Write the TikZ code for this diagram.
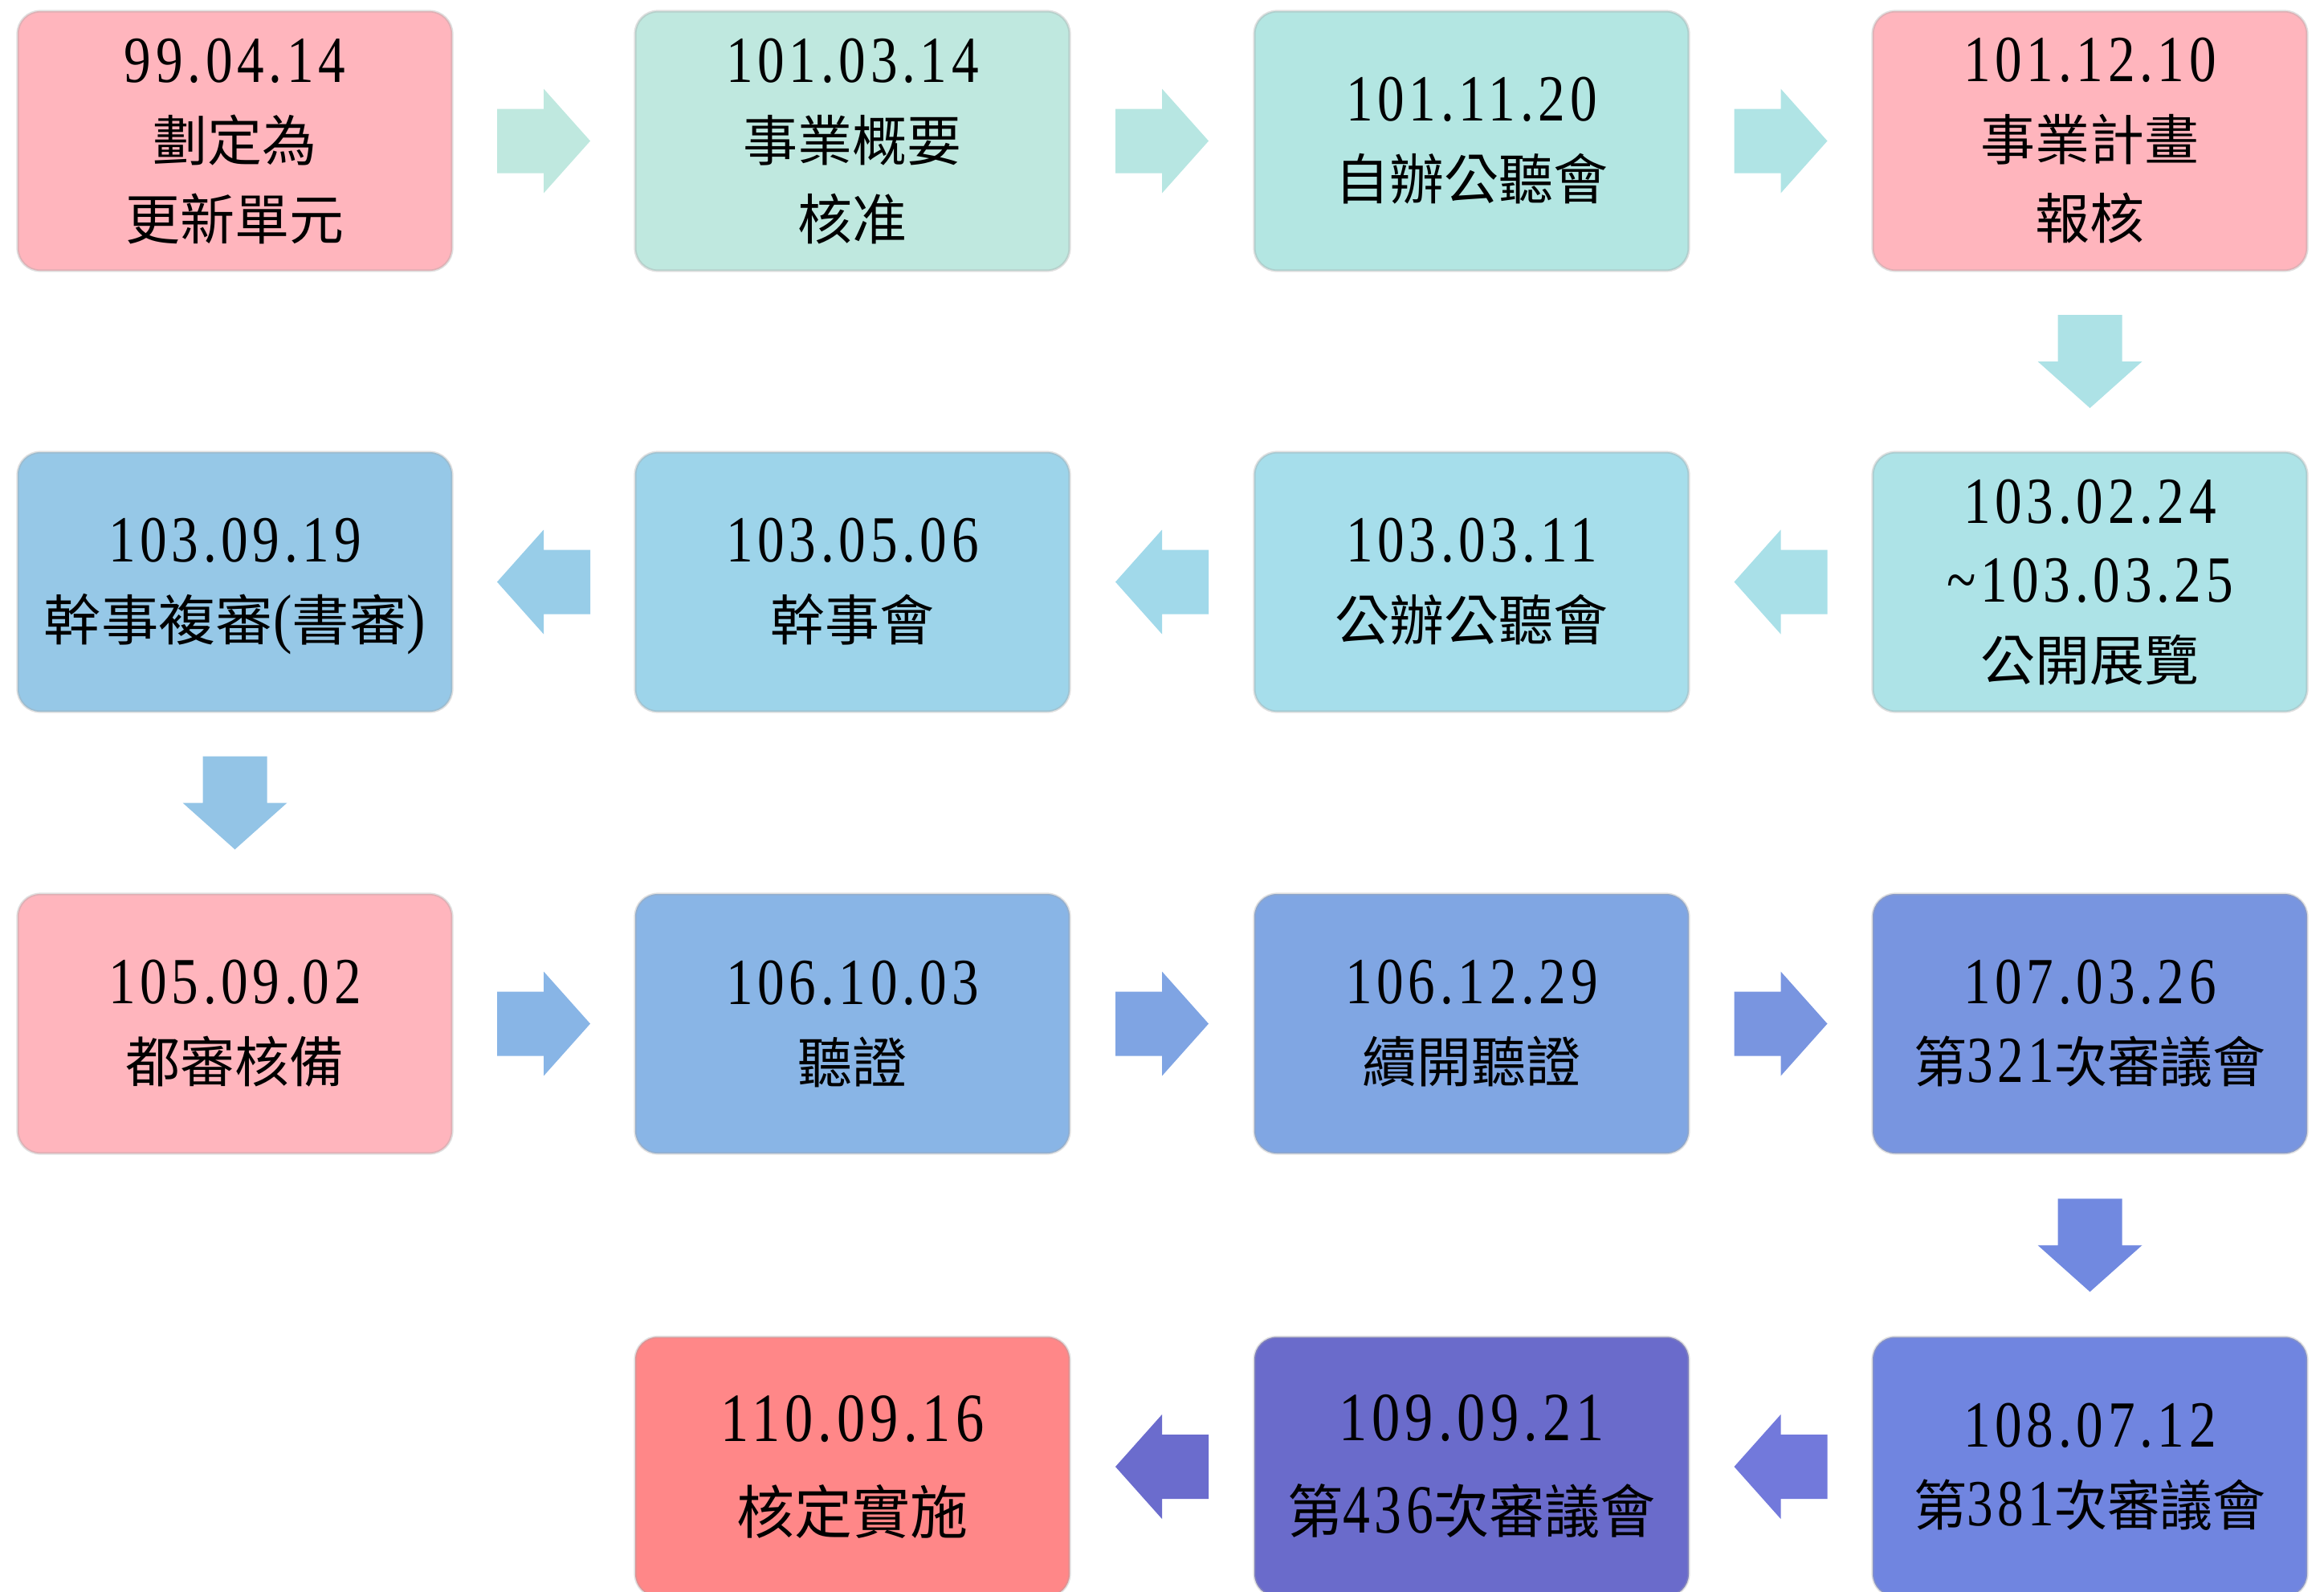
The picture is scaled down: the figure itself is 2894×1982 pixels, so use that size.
\documentclass[tikz,border=0pt]{standalone}
\usepackage{fontspec}
\usepackage{graphicx}
\setmainfont{Liberation Serif}
\newfontfamily\datef[FakeStretch=0.82,LetterSpace=7]{Liberation Serif}
\newfontfamily\cjkf{Noto Sans CJK TC}
\usetikzlibrary{calc}
\newcommand\dt[1]{{\datef\fontsize{20.5pt}{24.5pt}\selectfont #1}}
\newcommand\dtb[1]{{\datef\fontsize{21.5pt}{28.75pt}\selectfont #1}}
\definecolor{pk}{HTML}{FFB5BD}
\definecolor{b12}{HTML}{BFE8DF}
\definecolor{b13}{HTML}{B3E6E2}
\definecolor{b24}{HTML}{ADE3E7}
\definecolor{b23}{HTML}{A6DEEB}
\definecolor{b22}{HTML}{9DD4EA}
\definecolor{b21}{HTML}{96C8E7}
\definecolor{b32}{HTML}{89B5E6}
\definecolor{b33}{HTML}{80A6E3}
\definecolor{b34}{HTML}{7895E0}
\definecolor{b44}{HTML}{7085E0}
\definecolor{b43}{HTML}{6A6BCB}
\definecolor{b42}{HTML}{FF8788}
\definecolor{a11}{HTML}{BFE8DF}
\definecolor{a12}{HTML}{B7E6E2}
\definecolor{a13}{HTML}{B0E4E5}
\definecolor{d1}{HTML}{ADE2E6}
\definecolor{a23}{HTML}{A9E0E8}
\definecolor{a22}{HTML}{A1D9EA}
\definecolor{a21}{HTML}{98CDE8}
\definecolor{d2}{HTML}{93C4E6}
\definecolor{a31}{HTML}{88B5E6}
\definecolor{a32}{HTML}{7FA4E3}
\definecolor{a33}{HTML}{7995E0}
\definecolor{d3}{HTML}{7189E0}
\definecolor{a43}{HTML}{7279DB}
\definecolor{a42}{HTML}{6B6CCD}
\tikzset{
  box/.style={rounded corners=7pt, minimum width=135.25pt, minimum height=80.75pt,
    inner sep=0pt, align=center, draw=black!35, draw opacity=0.35, line width=0.8pt,
    font=\cjkf\fontsize{17pt}{24.5pt}\selectfont},
  bigbox/.style={box, font=\cjkf\fontsize{18pt}{28.75pt}\selectfont},
  barrow/.pic={\path[pic actions] (-58,-40) -- (0,-40) -- (0,-65) -- (58,0) -- (0,65) -- (0,40) -- (-58,40) -- cycle;}
}
\begin{document}
\begin{tikzpicture}[x=0.25pt,y=-0.25pt]
\useasboundingbox (0,0) rectangle (2894,1982);
\fill[white] (0,0) rectangle (2894,1982);
% row 1
\node[box, fill=pk]  (n1) at (292.5,175.5)  {\dt{99.04.14}\\劃定為\\更新單元};
\node[box, fill=b12] (n2) at (1061.5,175.5) {\dt{101.03.14}\\事業概要\\核准};
\node[box, fill=b13] (n3) at (1832.5,175.5) {\dt{101.11.20}\\自辦公聽會};
\node[box, fill=pk]  (n4) at (2602.5,175.5) {\dt{101.12.10}\\事業計畫\\報核};
% row 2
\node[box, fill=b24] (n5) at (2602.5,724.5) {\dt{103.02.24}\\\dt{\textasciitilde 103.03.25}\\公開展覽};
\node[box, fill=b23] (n6) at (1832.5,724.5) {\dt{103.03.11}\\公辦公聽會};
\node[box, fill=b22] (n7) at (1061.5,724.5) {\dt{103.05.06}\\幹事會};
\node[box, fill=b21] (n8) at (292.5,724.5)  {\dt{103.09.19}\\\scalebox{1.05}[1]{幹事複審\dt{\smash{(}}書審\dt{\smash{)}}}};
% row 3
\node[box, fill=pk]  (n9)  at (292.5,1274.5)  {\dt{105.09.02}\\都審核備};
\node[box, fill=b32] (n10) at (1061.5,1274.5) {\dt{106.10.03}\\聽證};
\node[box, fill=b33] (n11) at (1832.5,1274.5) {\dt{106.12.29}\\續開聽證};
\node[box, fill=b34] (n12) at (2602.5,1274.5) {\dt{107.03.26}\\\scalebox{0.97}[1]{第\dt{321}次審議會}};
% row 4
\node[box, fill=b44]    (n13) at (2602.5,1826) {\dt{108.07.12}\\\scalebox{0.97}[1]{第\dt{381}次審議會}};
\node[bigbox, fill=b43] (n14) at (1832.5,1826) {\dtb{109.09.21}\\\scalebox{0.96}[1]{第\dtb{436}次審議會}};
\node[bigbox, fill=b42] (n15) at (1061.5,1826) {\dtb{110.09.16}\\核定實施};
% arrows
\pic[fill=a11] at ($(n1.east)!0.5!(n2.west)$) {barrow};
\pic[fill=a12] at ($(n2.east)!0.5!(n3.west)$) {barrow};
\pic[fill=a13] at ($(n3.east)!0.5!(n4.west)$) {barrow};
\pic[fill=d1, rotate=-90] at ($(n4.south)!0.5!(n5.north)$) {barrow};
\pic[fill=a23, rotate=180] at ($(n5.west)!0.5!(n6.east)$) {barrow};
\pic[fill=a22, rotate=180] at ($(n6.west)!0.5!(n7.east)$) {barrow};
\pic[fill=a21, rotate=180] at ($(n7.west)!0.5!(n8.east)$) {barrow};
\pic[fill=d2, rotate=-90] at ($(n8.south)!0.5!(n9.north)$) {barrow};
\pic[fill=a31] at ($(n9.east)!0.5!(n10.west)$) {barrow};
\pic[fill=a32] at ($(n10.east)!0.5!(n11.west)$) {barrow};
\pic[fill=a33] at ($(n11.east)!0.5!(n12.west)$) {barrow};
\pic[fill=d3, rotate=-90] at ($(n12.south)!0.5!(n13.north)$) {barrow};
\pic[fill=a43, rotate=180] at ($(n13.west)!0.5!(n14.east)$) {barrow};
\pic[fill=a42, rotate=180] at ($(n14.west)!0.5!(n15.east)$) {barrow};
\end{tikzpicture}
\end{document}
